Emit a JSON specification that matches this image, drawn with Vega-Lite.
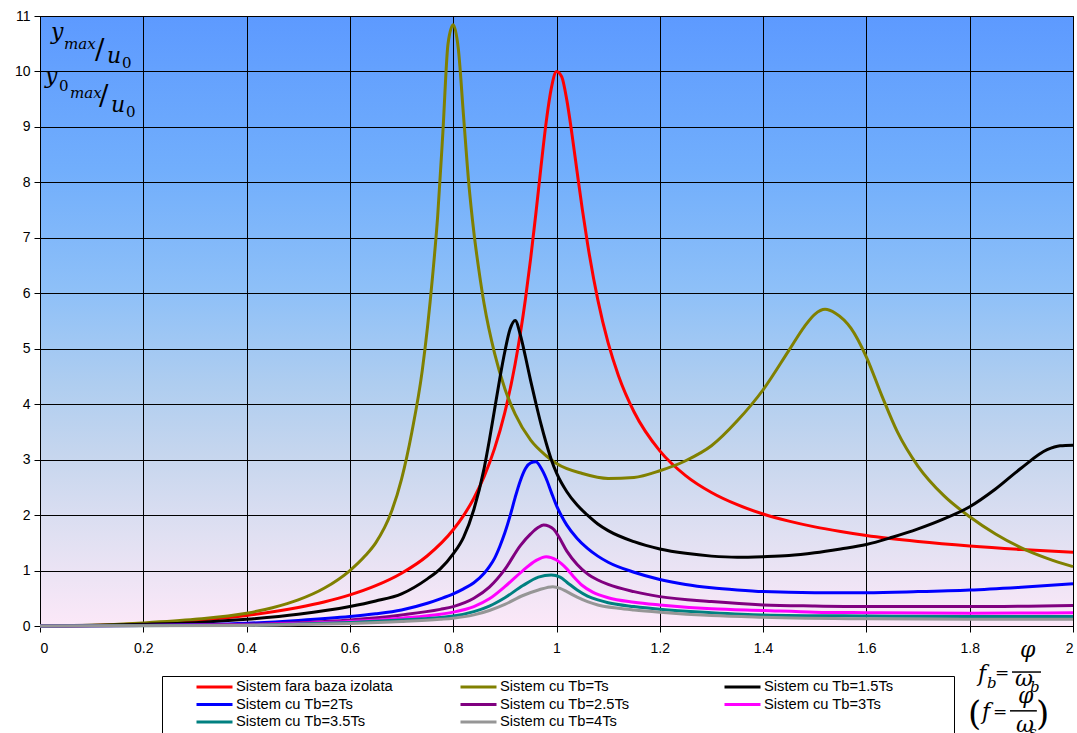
{
  "$schema": "https://vega.github.io/schema/vega-lite/v6.json",
  "width": 1033,
  "height": 610,
  "autosize": {"type": "none"},
  "padding": {"left": 40, "top": 16, "right": 4, "bottom": 107},
  "background": "white",
  "config": {
    "font": "Liberation Sans",
    "view": {
      "stroke": "#000",
      "strokeWidth": 1,
      "fill": {
        "gradient": "linear", "x1": 0, "y1": 0, "x2": 0, "y2": 1,
        "stops": [
          {"offset": 0, "color": "#5D9AFF"},
          {"offset": 0.25, "color": "#71AEFC"},
          {"offset": 0.45, "color": "#8EC0F8"},
          {"offset": 0.6, "color": "#AECDF0"},
          {"offset": 0.72, "color": "#C6D6EE"},
          {"offset": 0.85, "color": "#E0E0F2"},
          {"offset": 1, "color": "#FCE8F8"}
        ]
      }
    },
    "axis": {
      "labelFont": "Liberation Sans", "labelFontSize": 14, "labelColor": "#000",
      "tickColor": "#000", "domainColor": "#000", "gridColor": "#000",
      "gridOpacity": 1, "gridWidth": 1, "tickWidth": 1, "domainWidth": 1, "tickSize": 6
    }
  },
  "datasets": {
    "curves": [
      {"s":"Sistem fara baza izolata","x":0,"y":0},
      {"s":"Sistem fara baza izolata","x":0.1,"y":0.01},
      {"s":"Sistem fara baza izolata","x":0.2,"y":0.042},
      {"s":"Sistem fara baza izolata","x":0.3,"y":0.099},
      {"s":"Sistem fara baza izolata","x":0.4,"y":0.19},
      {"s":"Sistem fara baza izolata","x":0.5,"y":0.333},
      {"s":"Sistem fara baza izolata","x":0.55,"y":0.432},
      {"s":"Sistem fara baza izolata","x":0.6,"y":0.56},
      {"s":"Sistem fara baza izolata","x":0.65,"y":0.727},
      {"s":"Sistem fara baza izolata","x":0.7,"y":0.952},
      {"s":"Sistem fara baza izolata","x":0.75,"y":1.267},
      {"s":"Sistem fara baza izolata","x":0.8,"y":1.735},
      {"s":"Sistem fara baza izolata","x":0.82,"y":1.991},
      {"s":"Sistem fara baza izolata","x":0.84,"y":2.305},
      {"s":"Sistem fara baza izolata","x":0.86,"y":2.697},
      {"s":"Sistem fara baza izolata","x":0.88,"y":3.198},
      {"s":"Sistem fara baza izolata","x":0.9,"y":3.853},
      {"s":"Sistem fara baza izolata","x":0.92,"y":4.728},
      {"s":"Sistem fara baza izolata","x":0.94,"y":5.906},
      {"s":"Sistem fara baza izolata","x":0.95,"y":6.63},
      {"s":"Sistem fara baza izolata","x":0.96,"y":7.434},
      {"s":"Sistem fara baza izolata","x":0.97,"y":8.283},
      {"s":"Sistem fara baza izolata","x":0.98,"y":9.086},
      {"s":"Sistem fara baza izolata","x":0.99,"y":9.7},
      {"s":"Sistem fara baza izolata","x":1.0,"y":10.0},
      {"s":"Sistem fara baza izolata","x":1.01,"y":9.906},
      {"s":"Sistem fara baza izolata","x":1.02,"y":9.483},
      {"s":"Sistem fara baza izolata","x":1.03,"y":8.866},
      {"s":"Sistem fara baza izolata","x":1.04,"y":8.182},
      {"s":"Sistem fara baza izolata","x":1.05,"y":7.513},
      {"s":"Sistem fara baza izolata","x":1.06,"y":6.901},
      {"s":"Sistem fara baza izolata","x":1.08,"y":5.88},
      {"s":"Sistem fara baza izolata","x":1.1,"y":5.104},
      {"s":"Sistem fara baza izolata","x":1.12,"y":4.513},
      {"s":"Sistem fara baza izolata","x":1.15,"y":3.863},
      {"s":"Sistem fara baza izolata","x":1.2,"y":3.158},
      {"s":"Sistem fara baza izolata","x":1.25,"y":2.712},
      {"s":"Sistem fara baza izolata","x":1.3,"y":2.407},
      {"s":"Sistem fara baza izolata","x":1.35,"y":2.187},
      {"s":"Sistem fara baza izolata","x":1.4,"y":2.02},
      {"s":"Sistem fara baza izolata","x":1.45,"y":1.891},
      {"s":"Sistem fara baza izolata","x":1.5,"y":1.787},
      {"s":"Sistem fara baza izolata","x":1.55,"y":1.703},
      {"s":"Sistem fara baza izolata","x":1.6,"y":1.63},
      {"s":"Sistem fara baza izolata","x":1.7,"y":1.523},
      {"s":"Sistem fara baza izolata","x":1.8,"y":1.442},
      {"s":"Sistem fara baza izolata","x":1.9,"y":1.38},
      {"s":"Sistem fara baza izolata","x":2.0,"y":1.331},

      {"s":"Sistem cu Tb=Ts","x":0,"y":0},
      {"s":"Sistem cu Tb=Ts","x":0.1,"y":0.012},
      {"s":"Sistem cu Tb=Ts","x":0.2,"y":0.055},
      {"s":"Sistem cu Tb=Ts","x":0.3,"y":0.12},
      {"s":"Sistem cu Tb=Ts","x":0.4,"y":0.23},
      {"s":"Sistem cu Tb=Ts","x":0.45,"y":0.33},
      {"s":"Sistem cu Tb=Ts","x":0.5,"y":0.47},
      {"s":"Sistem cu Tb=Ts","x":0.55,"y":0.68},
      {"s":"Sistem cu Tb=Ts","x":0.6,"y":1.0},
      {"s":"Sistem cu Tb=Ts","x":0.63,"y":1.27},
      {"s":"Sistem cu Tb=Ts","x":0.65,"y":1.5},
      {"s":"Sistem cu Tb=Ts","x":0.68,"y":2.05},
      {"s":"Sistem cu Tb=Ts","x":0.7,"y":2.65},
      {"s":"Sistem cu Tb=Ts","x":0.72,"y":3.5},
      {"s":"Sistem cu Tb=Ts","x":0.74,"y":4.6},
      {"s":"Sistem cu Tb=Ts","x":0.76,"y":6.3},
      {"s":"Sistem cu Tb=Ts","x":0.77,"y":7.4},
      {"s":"Sistem cu Tb=Ts","x":0.78,"y":8.9},
      {"s":"Sistem cu Tb=Ts","x":0.79,"y":10.5},
      {"s":"Sistem cu Tb=Ts","x":0.8,"y":10.84},
      {"s":"Sistem cu Tb=Ts","x":0.81,"y":10.4},
      {"s":"Sistem cu Tb=Ts","x":0.82,"y":9.2},
      {"s":"Sistem cu Tb=Ts","x":0.83,"y":8.0},
      {"s":"Sistem cu Tb=Ts","x":0.84,"y":7.1},
      {"s":"Sistem cu Tb=Ts","x":0.85,"y":6.4},
      {"s":"Sistem cu Tb=Ts","x":0.86,"y":5.8},
      {"s":"Sistem cu Tb=Ts","x":0.88,"y":4.92},
      {"s":"Sistem cu Tb=Ts","x":0.9,"y":4.28},
      {"s":"Sistem cu Tb=Ts","x":0.92,"y":3.82},
      {"s":"Sistem cu Tb=Ts","x":0.95,"y":3.35},
      {"s":"Sistem cu Tb=Ts","x":0.98,"y":3.07},
      {"s":"Sistem cu Tb=Ts","x":1.0,"y":2.93},
      {"s":"Sistem cu Tb=Ts","x":1.05,"y":2.75},
      {"s":"Sistem cu Tb=Ts","x":1.1,"y":2.66},
      {"s":"Sistem cu Tb=Ts","x":1.15,"y":2.68},
      {"s":"Sistem cu Tb=Ts","x":1.2,"y":2.8},
      {"s":"Sistem cu Tb=Ts","x":1.25,"y":2.98},
      {"s":"Sistem cu Tb=Ts","x":1.3,"y":3.25},
      {"s":"Sistem cu Tb=Ts","x":1.35,"y":3.7},
      {"s":"Sistem cu Tb=Ts","x":1.4,"y":4.26},
      {"s":"Sistem cu Tb=Ts","x":1.45,"y":4.97},
      {"s":"Sistem cu Tb=Ts","x":1.48,"y":5.4},
      {"s":"Sistem cu Tb=Ts","x":1.5,"y":5.62},
      {"s":"Sistem cu Tb=Ts","x":1.52,"y":5.71},
      {"s":"Sistem cu Tb=Ts","x":1.54,"y":5.64},
      {"s":"Sistem cu Tb=Ts","x":1.57,"y":5.37},
      {"s":"Sistem cu Tb=Ts","x":1.6,"y":4.85},
      {"s":"Sistem cu Tb=Ts","x":1.63,"y":4.15},
      {"s":"Sistem cu Tb=Ts","x":1.66,"y":3.5},
      {"s":"Sistem cu Tb=Ts","x":1.7,"y":2.88},
      {"s":"Sistem cu Tb=Ts","x":1.75,"y":2.35},
      {"s":"Sistem cu Tb=Ts","x":1.8,"y":1.97},
      {"s":"Sistem cu Tb=Ts","x":1.85,"y":1.66},
      {"s":"Sistem cu Tb=Ts","x":1.9,"y":1.41},
      {"s":"Sistem cu Tb=Ts","x":1.95,"y":1.22},
      {"s":"Sistem cu Tb=Ts","x":2.0,"y":1.07},

      {"s":"Sistem cu Tb=1.5Ts","x":0,"y":0},
      {"s":"Sistem cu Tb=1.5Ts","x":0.2,"y":0.03},
      {"s":"Sistem cu Tb=1.5Ts","x":0.3,"y":0.06},
      {"s":"Sistem cu Tb=1.5Ts","x":0.4,"y":0.12},
      {"s":"Sistem cu Tb=1.5Ts","x":0.5,"y":0.21},
      {"s":"Sistem cu Tb=1.5Ts","x":0.6,"y":0.35},
      {"s":"Sistem cu Tb=1.5Ts","x":0.65,"y":0.45},
      {"s":"Sistem cu Tb=1.5Ts","x":0.7,"y":0.58},
      {"s":"Sistem cu Tb=1.5Ts","x":0.75,"y":0.85},
      {"s":"Sistem cu Tb=1.5Ts","x":0.775,"y":1.03},
      {"s":"Sistem cu Tb=1.5Ts","x":0.8,"y":1.3},
      {"s":"Sistem cu Tb=1.5Ts","x":0.82,"y":1.6},
      {"s":"Sistem cu Tb=1.5Ts","x":0.84,"y":2.1},
      {"s":"Sistem cu Tb=1.5Ts","x":0.86,"y":2.85},
      {"s":"Sistem cu Tb=1.5Ts","x":0.87,"y":3.35},
      {"s":"Sistem cu Tb=1.5Ts","x":0.88,"y":3.9},
      {"s":"Sistem cu Tb=1.5Ts","x":0.89,"y":4.45},
      {"s":"Sistem cu Tb=1.5Ts","x":0.9,"y":4.95},
      {"s":"Sistem cu Tb=1.5Ts","x":0.91,"y":5.35},
      {"s":"Sistem cu Tb=1.5Ts","x":0.92,"y":5.51},
      {"s":"Sistem cu Tb=1.5Ts","x":0.93,"y":5.25},
      {"s":"Sistem cu Tb=1.5Ts","x":0.94,"y":4.85},
      {"s":"Sistem cu Tb=1.5Ts","x":0.95,"y":4.42},
      {"s":"Sistem cu Tb=1.5Ts","x":0.96,"y":4.02},
      {"s":"Sistem cu Tb=1.5Ts","x":0.97,"y":3.64},
      {"s":"Sistem cu Tb=1.5Ts","x":0.98,"y":3.3},
      {"s":"Sistem cu Tb=1.5Ts","x":0.99,"y":3.0},
      {"s":"Sistem cu Tb=1.5Ts","x":1.0,"y":2.76},
      {"s":"Sistem cu Tb=1.5Ts","x":1.02,"y":2.42},
      {"s":"Sistem cu Tb=1.5Ts","x":1.04,"y":2.18},
      {"s":"Sistem cu Tb=1.5Ts","x":1.06,"y":2.0},
      {"s":"Sistem cu Tb=1.5Ts","x":1.08,"y":1.84},
      {"s":"Sistem cu Tb=1.5Ts","x":1.1,"y":1.72},
      {"s":"Sistem cu Tb=1.5Ts","x":1.15,"y":1.52},
      {"s":"Sistem cu Tb=1.5Ts","x":1.2,"y":1.39},
      {"s":"Sistem cu Tb=1.5Ts","x":1.25,"y":1.31},
      {"s":"Sistem cu Tb=1.5Ts","x":1.3,"y":1.26},
      {"s":"Sistem cu Tb=1.5Ts","x":1.35,"y":1.24},
      {"s":"Sistem cu Tb=1.5Ts","x":1.4,"y":1.25},
      {"s":"Sistem cu Tb=1.5Ts","x":1.45,"y":1.27},
      {"s":"Sistem cu Tb=1.5Ts","x":1.5,"y":1.32},
      {"s":"Sistem cu Tb=1.5Ts","x":1.55,"y":1.39},
      {"s":"Sistem cu Tb=1.5Ts","x":1.6,"y":1.47},
      {"s":"Sistem cu Tb=1.5Ts","x":1.65,"y":1.6},
      {"s":"Sistem cu Tb=1.5Ts","x":1.7,"y":1.75},
      {"s":"Sistem cu Tb=1.5Ts","x":1.75,"y":1.93},
      {"s":"Sistem cu Tb=1.5Ts","x":1.8,"y":2.15},
      {"s":"Sistem cu Tb=1.5Ts","x":1.85,"y":2.47},
      {"s":"Sistem cu Tb=1.5Ts","x":1.9,"y":2.85},
      {"s":"Sistem cu Tb=1.5Ts","x":1.95,"y":3.18},
      {"s":"Sistem cu Tb=1.5Ts","x":1.975,"y":3.25},
      {"s":"Sistem cu Tb=1.5Ts","x":2.0,"y":3.26},

      {"s":"Sistem cu Tb=2Ts","x":0,"y":0},
      {"s":"Sistem cu Tb=2Ts","x":0.2,"y":0.01},
      {"s":"Sistem cu Tb=2Ts","x":0.3,"y":0.025},
      {"s":"Sistem cu Tb=2Ts","x":0.4,"y":0.05},
      {"s":"Sistem cu Tb=2Ts","x":0.5,"y":0.1},
      {"s":"Sistem cu Tb=2Ts","x":0.6,"y":0.17},
      {"s":"Sistem cu Tb=2Ts","x":0.65,"y":0.22},
      {"s":"Sistem cu Tb=2Ts","x":0.7,"y":0.29},
      {"s":"Sistem cu Tb=2Ts","x":0.75,"y":0.41},
      {"s":"Sistem cu Tb=2Ts","x":0.775,"y":0.49},
      {"s":"Sistem cu Tb=2Ts","x":0.8,"y":0.58},
      {"s":"Sistem cu Tb=2Ts","x":0.82,"y":0.67},
      {"s":"Sistem cu Tb=2Ts","x":0.84,"y":0.78},
      {"s":"Sistem cu Tb=2Ts","x":0.86,"y":0.95},
      {"s":"Sistem cu Tb=2Ts","x":0.87,"y":1.07},
      {"s":"Sistem cu Tb=2Ts","x":0.88,"y":1.22},
      {"s":"Sistem cu Tb=2Ts","x":0.89,"y":1.43},
      {"s":"Sistem cu Tb=2Ts","x":0.9,"y":1.68},
      {"s":"Sistem cu Tb=2Ts","x":0.91,"y":1.98},
      {"s":"Sistem cu Tb=2Ts","x":0.92,"y":2.32},
      {"s":"Sistem cu Tb=2Ts","x":0.93,"y":2.62},
      {"s":"Sistem cu Tb=2Ts","x":0.94,"y":2.84},
      {"s":"Sistem cu Tb=2Ts","x":0.95,"y":2.94},
      {"s":"Sistem cu Tb=2Ts","x":0.96,"y":2.96},
      {"s":"Sistem cu Tb=2Ts","x":0.97,"y":2.85},
      {"s":"Sistem cu Tb=2Ts","x":0.98,"y":2.66},
      {"s":"Sistem cu Tb=2Ts","x":0.99,"y":2.41},
      {"s":"Sistem cu Tb=2Ts","x":1.0,"y":2.17},
      {"s":"Sistem cu Tb=2Ts","x":1.01,"y":1.98},
      {"s":"Sistem cu Tb=2Ts","x":1.02,"y":1.82},
      {"s":"Sistem cu Tb=2Ts","x":1.04,"y":1.58},
      {"s":"Sistem cu Tb=2Ts","x":1.06,"y":1.4},
      {"s":"Sistem cu Tb=2Ts","x":1.08,"y":1.26},
      {"s":"Sistem cu Tb=2Ts","x":1.1,"y":1.15},
      {"s":"Sistem cu Tb=2Ts","x":1.15,"y":0.97},
      {"s":"Sistem cu Tb=2Ts","x":1.2,"y":0.84},
      {"s":"Sistem cu Tb=2Ts","x":1.25,"y":0.75},
      {"s":"Sistem cu Tb=2Ts","x":1.3,"y":0.69},
      {"s":"Sistem cu Tb=2Ts","x":1.35,"y":0.65},
      {"s":"Sistem cu Tb=2Ts","x":1.4,"y":0.62},
      {"s":"Sistem cu Tb=2Ts","x":1.5,"y":0.6},
      {"s":"Sistem cu Tb=2Ts","x":1.6,"y":0.6},
      {"s":"Sistem cu Tb=2Ts","x":1.7,"y":0.62},
      {"s":"Sistem cu Tb=2Ts","x":1.8,"y":0.65},
      {"s":"Sistem cu Tb=2Ts","x":1.9,"y":0.7},
      {"s":"Sistem cu Tb=2Ts","x":2.0,"y":0.76},

      {"s":"Sistem cu Tb=2.5Ts","x":0,"y":0},
      {"s":"Sistem cu Tb=2.5Ts","x":0.3,"y":0.02},
      {"s":"Sistem cu Tb=2.5Ts","x":0.4,"y":0.03},
      {"s":"Sistem cu Tb=2.5Ts","x":0.5,"y":0.06},
      {"s":"Sistem cu Tb=2.5Ts","x":0.6,"y":0.11},
      {"s":"Sistem cu Tb=2.5Ts","x":0.7,"y":0.2},
      {"s":"Sistem cu Tb=2.5Ts","x":0.775,"y":0.3},
      {"s":"Sistem cu Tb=2.5Ts","x":0.8,"y":0.35},
      {"s":"Sistem cu Tb=2.5Ts","x":0.84,"y":0.5},
      {"s":"Sistem cu Tb=2.5Ts","x":0.87,"y":0.7},
      {"s":"Sistem cu Tb=2.5Ts","x":0.9,"y":1.02},
      {"s":"Sistem cu Tb=2.5Ts","x":0.93,"y":1.45},
      {"s":"Sistem cu Tb=2.5Ts","x":0.95,"y":1.66},
      {"s":"Sistem cu Tb=2.5Ts","x":0.965,"y":1.78},
      {"s":"Sistem cu Tb=2.5Ts","x":0.975,"y":1.82},
      {"s":"Sistem cu Tb=2.5Ts","x":0.985,"y":1.8},
      {"s":"Sistem cu Tb=2.5Ts","x":0.995,"y":1.74},
      {"s":"Sistem cu Tb=2.5Ts","x":1.005,"y":1.6},
      {"s":"Sistem cu Tb=2.5Ts","x":1.02,"y":1.35},
      {"s":"Sistem cu Tb=2.5Ts","x":1.04,"y":1.11},
      {"s":"Sistem cu Tb=2.5Ts","x":1.06,"y":0.94},
      {"s":"Sistem cu Tb=2.5Ts","x":1.08,"y":0.83},
      {"s":"Sistem cu Tb=2.5Ts","x":1.1,"y":0.75},
      {"s":"Sistem cu Tb=2.5Ts","x":1.15,"y":0.62},
      {"s":"Sistem cu Tb=2.5Ts","x":1.2,"y":0.53},
      {"s":"Sistem cu Tb=2.5Ts","x":1.3,"y":0.44},
      {"s":"Sistem cu Tb=2.5Ts","x":1.4,"y":0.38},
      {"s":"Sistem cu Tb=2.5Ts","x":1.5,"y":0.36},
      {"s":"Sistem cu Tb=2.5Ts","x":1.6,"y":0.35},
      {"s":"Sistem cu Tb=2.5Ts","x":1.8,"y":0.35},
      {"s":"Sistem cu Tb=2.5Ts","x":2.0,"y":0.37},

      {"s":"Sistem cu Tb=3Ts","x":0,"y":0},
      {"s":"Sistem cu Tb=3Ts","x":0.4,"y":0.02},
      {"s":"Sistem cu Tb=3Ts","x":0.5,"y":0.045},
      {"s":"Sistem cu Tb=3Ts","x":0.6,"y":0.08},
      {"s":"Sistem cu Tb=3Ts","x":0.7,"y":0.14},
      {"s":"Sistem cu Tb=3Ts","x":0.775,"y":0.21},
      {"s":"Sistem cu Tb=3Ts","x":0.8,"y":0.25},
      {"s":"Sistem cu Tb=3Ts","x":0.84,"y":0.35},
      {"s":"Sistem cu Tb=3Ts","x":0.87,"y":0.49},
      {"s":"Sistem cu Tb=3Ts","x":0.9,"y":0.71},
      {"s":"Sistem cu Tb=3Ts","x":0.935,"y":1.0},
      {"s":"Sistem cu Tb=3Ts","x":0.96,"y":1.18},
      {"s":"Sistem cu Tb=3Ts","x":0.98,"y":1.25},
      {"s":"Sistem cu Tb=3Ts","x":1.0,"y":1.19},
      {"s":"Sistem cu Tb=3Ts","x":1.01,"y":1.12},
      {"s":"Sistem cu Tb=3Ts","x":1.02,"y":1.03},
      {"s":"Sistem cu Tb=3Ts","x":1.033,"y":0.89},
      {"s":"Sistem cu Tb=3Ts","x":1.05,"y":0.73},
      {"s":"Sistem cu Tb=3Ts","x":1.07,"y":0.61},
      {"s":"Sistem cu Tb=3Ts","x":1.1,"y":0.51},
      {"s":"Sistem cu Tb=3Ts","x":1.15,"y":0.43},
      {"s":"Sistem cu Tb=3Ts","x":1.2,"y":0.38},
      {"s":"Sistem cu Tb=3Ts","x":1.3,"y":0.31},
      {"s":"Sistem cu Tb=3Ts","x":1.4,"y":0.28},
      {"s":"Sistem cu Tb=3Ts","x":1.5,"y":0.25},
      {"s":"Sistem cu Tb=3Ts","x":1.6,"y":0.24},
      {"s":"Sistem cu Tb=3Ts","x":1.8,"y":0.23},
      {"s":"Sistem cu Tb=3Ts","x":2.0,"y":0.24},

      {"s":"Sistem cu Tb=3.5Ts","x":0,"y":0},
      {"s":"Sistem cu Tb=3.5Ts","x":0.4,"y":0.015},
      {"s":"Sistem cu Tb=3.5Ts","x":0.5,"y":0.035},
      {"s":"Sistem cu Tb=3.5Ts","x":0.6,"y":0.065},
      {"s":"Sistem cu Tb=3.5Ts","x":0.7,"y":0.11},
      {"s":"Sistem cu Tb=3.5Ts","x":0.775,"y":0.155},
      {"s":"Sistem cu Tb=3.5Ts","x":0.8,"y":0.18},
      {"s":"Sistem cu Tb=3.5Ts","x":0.84,"y":0.26},
      {"s":"Sistem cu Tb=3.5Ts","x":0.87,"y":0.36},
      {"s":"Sistem cu Tb=3.5Ts","x":0.9,"y":0.51},
      {"s":"Sistem cu Tb=3.5Ts","x":0.935,"y":0.73},
      {"s":"Sistem cu Tb=3.5Ts","x":0.965,"y":0.88},
      {"s":"Sistem cu Tb=3.5Ts","x":0.99,"y":0.92},
      {"s":"Sistem cu Tb=3.5Ts","x":1.007,"y":0.88},
      {"s":"Sistem cu Tb=3.5Ts","x":1.02,"y":0.79},
      {"s":"Sistem cu Tb=3.5Ts","x":1.04,"y":0.65},
      {"s":"Sistem cu Tb=3.5Ts","x":1.06,"y":0.54},
      {"s":"Sistem cu Tb=3.5Ts","x":1.08,"y":0.47},
      {"s":"Sistem cu Tb=3.5Ts","x":1.1,"y":0.42},
      {"s":"Sistem cu Tb=3.5Ts","x":1.15,"y":0.35},
      {"s":"Sistem cu Tb=3.5Ts","x":1.2,"y":0.3},
      {"s":"Sistem cu Tb=3.5Ts","x":1.3,"y":0.24},
      {"s":"Sistem cu Tb=3.5Ts","x":1.4,"y":0.2},
      {"s":"Sistem cu Tb=3.5Ts","x":1.6,"y":0.18},
      {"s":"Sistem cu Tb=3.5Ts","x":1.8,"y":0.17},
      {"s":"Sistem cu Tb=3.5Ts","x":2.0,"y":0.17},

      {"s":"Sistem cu Tb=4Ts","x":0,"y":0},
      {"s":"Sistem cu Tb=4Ts","x":0.4,"y":0.01},
      {"s":"Sistem cu Tb=4Ts","x":0.5,"y":0.025},
      {"s":"Sistem cu Tb=4Ts","x":0.6,"y":0.045},
      {"s":"Sistem cu Tb=4Ts","x":0.7,"y":0.08},
      {"s":"Sistem cu Tb=4Ts","x":0.775,"y":0.12},
      {"s":"Sistem cu Tb=4Ts","x":0.8,"y":0.14},
      {"s":"Sistem cu Tb=4Ts","x":0.84,"y":0.2},
      {"s":"Sistem cu Tb=4Ts","x":0.87,"y":0.28},
      {"s":"Sistem cu Tb=4Ts","x":0.9,"y":0.39},
      {"s":"Sistem cu Tb=4Ts","x":0.935,"y":0.55},
      {"s":"Sistem cu Tb=4Ts","x":0.965,"y":0.65},
      {"s":"Sistem cu Tb=4Ts","x":0.993,"y":0.71},
      {"s":"Sistem cu Tb=4Ts","x":1.007,"y":0.68},
      {"s":"Sistem cu Tb=4Ts","x":1.02,"y":0.62},
      {"s":"Sistem cu Tb=4Ts","x":1.04,"y":0.52},
      {"s":"Sistem cu Tb=4Ts","x":1.06,"y":0.44},
      {"s":"Sistem cu Tb=4Ts","x":1.08,"y":0.38},
      {"s":"Sistem cu Tb=4Ts","x":1.12,"y":0.32},
      {"s":"Sistem cu Tb=4Ts","x":1.15,"y":0.29},
      {"s":"Sistem cu Tb=4Ts","x":1.2,"y":0.25},
      {"s":"Sistem cu Tb=4Ts","x":1.3,"y":0.19},
      {"s":"Sistem cu Tb=4Ts","x":1.4,"y":0.16},
      {"s":"Sistem cu Tb=4Ts","x":1.6,"y":0.13},
      {"s":"Sistem cu Tb=4Ts","x":1.8,"y":0.12},
      {"s":"Sistem cu Tb=4Ts","x":2.0,"y":0.12}
    ],
    "ann": [
      {"t":"y","k":"bi","x":0.0213,"y":10.586},
      {"t":"max","k":"si","x":0.0465,"y":10.406},
      {"t":"/","k":"sl","x":0.1065,"y":10.23},
      {"t":"u","k":"bi","x":0.1297,"y":10.153},
      {"t":"0","k":"su","x":0.1588,"y":10.063},
      {"t":"y","k":"bi","x":0.0097,"y":9.793},
      {"t":"0","k":"su","x":0.0368,"y":9.648},
      {"t":"max","k":"si","x":0.0581,"y":9.522},
      {"t":"/","k":"sl","x":0.1143,"y":9.396},
      {"t":"u","k":"bi","x":0.1375,"y":9.27},
      {"t":"0","k":"su","x":0.1665,"y":9.179},
      {"t":"f","k":"bi","x":1.8161,"y":-0.992},
      {"t":"b","k":"si","x":1.8335,"y":-1.118},
      {"t":"=","k":"eq","x":1.849,"y":-0.938},
      {"t":"φ","k":"bi","x":1.8974,"y":-0.56},
      {"t":"ω","k":"bi","x":1.8877,"y":-1.09},
      {"t":"b","k":"si","x":1.9167,"y":-1.19},
      {"t":"(","k":"p","x":1.7967,"y":-1.785},
      {"t":"f","k":"bi","x":1.8238,"y":-1.677},
      {"t":"=","k":"eq","x":1.8452,"y":-1.641},
      {"t":"φ","k":"bi","x":1.8935,"y":-1.395},
      {"t":"ω","k":"bi","x":1.8896,"y":-1.91},
      {"t":"s","k":"si","x":1.9148,"y":-2.01},
      {"t":")","k":"p","x":1.9284,"y":-1.785}
    ],
    "bars": [
      {"x":1.8819,"x2":1.938,"y":-0.83},
      {"x":1.878,"x2":1.93,"y":-1.53}
    ]
  },
  "layer": [
    {
      "data": {"name": "curves"},
      "mark": {"type": "line", "strokeWidth": 3, "interpolate": "monotone"},
      "encoding": {
        "x": {
          "field": "x", "type": "quantitative",
          "scale": {"domain": [0, 2], "nice": false},
          "axis": {"values": [0, 0.2, 0.4, 0.6, 0.8, 1, 1.2, 1.4, 1.6, 1.8, 2], "format": "~g", "title": null, "grid": true, "labelPadding": 9}
        },
        "y": {
          "field": "y", "type": "quantitative",
          "scale": {"domain": [0, 11], "nice": false},
          "axis": {"values": [0, 1, 2, 3, 4, 5, 6, 7, 8, 9, 10, 11], "format": "~g", "title": null, "grid": true, "labelPadding": 4}
        },
        "color": {
          "field": "s", "type": "nominal",
          "scale": {
            "domain": ["Sistem fara baza izolata", "Sistem cu Tb=Ts", "Sistem cu Tb=1.5Ts", "Sistem cu Tb=2Ts", "Sistem cu Tb=2.5Ts", "Sistem cu Tb=3Ts", "Sistem cu Tb=3.5Ts", "Sistem cu Tb=4Ts"],
            "range": ["#FF0000", "#808000", "#000000", "#0000FF", "#800080", "#FF00FF", "#008080", "#969696"]
          },
          "legend": {
            "orient": "none", "legendX": 122, "legendY": 660, "columns": 3, "direction": "horizontal",
            "title": " ", "titleOrient": "right", "titlePadding": 57, "titleFontSize": 8,
            "symbolType": "stroke", "symbolStrokeWidth": 3, "symbolSize": 1296, "clipHeight": 14,
            "symbolOffset": 29, "labelOffset": 2, "labelFontSize": 14.7, "labelFont": "Liberation Sans", "labelColor": "#000",
            "labelLimit": 300, "gridAlign": "all", "columnPadding": 37, "rowPadding": 2.5,
            "strokeColor": "#000", "fillColor": "#FFFFFF", "padding": 4
          }
        }
      }
    },
    {
      "data": {"name": "bars"},
      "mark": {"type": "rule", "strokeWidth": 1.5, "color": "#000"},
      "encoding": {
        "x": {"field": "x", "type": "quantitative", "title": null},
        "x2": {"field": "x2"},
        "y": {"field": "y", "type": "quantitative", "title": null}
      }
    },
    {
      "data": {"name": "ann"},
      "transform": [{"filter": "datum.k == 'bi'"}],
      "mark": {"type": "text", "font": "DejaVu Serif", "fontStyle": "italic", "fontSize": 22, "align": "left", "baseline": "alphabetic", "color": "#000"},
      "encoding": {
        "x": {"field": "x", "type": "quantitative", "title": null},
        "y": {"field": "y", "type": "quantitative", "title": null},
        "text": {"field": "t"}
      }
    },
    {
      "data": {"name": "ann"},
      "transform": [{"filter": "datum.k == 'eq'"}],
      "mark": {"type": "text", "font": "DejaVu Serif", "fontSize": 17, "align": "left", "baseline": "alphabetic", "color": "#000"},
      "encoding": {
        "x": {"field": "x", "type": "quantitative", "title": null},
        "y": {"field": "y", "type": "quantitative", "title": null},
        "text": {"field": "t"}
      }
    },
    {
      "data": {"name": "ann"},
      "transform": [{"filter": "datum.k == 'sl'"}],
      "mark": {"type": "text", "font": "DejaVu Serif", "fontSize": 28, "align": "left", "baseline": "alphabetic", "color": "#000"},
      "encoding": {
        "x": {"field": "x", "type": "quantitative", "title": null},
        "y": {"field": "y", "type": "quantitative", "title": null},
        "text": {"field": "t"}
      }
    },
    {
      "data": {"name": "ann"},
      "transform": [{"filter": "datum.k == 'si'"}],
      "mark": {"type": "text", "font": "DejaVu Serif", "fontStyle": "italic", "fontSize": 15, "align": "left", "baseline": "alphabetic", "color": "#000"},
      "encoding": {
        "x": {"field": "x", "type": "quantitative", "title": null},
        "y": {"field": "y", "type": "quantitative", "title": null},
        "text": {"field": "t"}
      }
    },
    {
      "data": {"name": "ann"},
      "transform": [{"filter": "datum.k == 'su'"}],
      "mark": {"type": "text", "font": "DejaVu Serif", "fontSize": 15, "align": "left", "baseline": "alphabetic", "color": "#000"},
      "encoding": {
        "x": {"field": "x", "type": "quantitative", "title": null},
        "y": {"field": "y", "type": "quantitative", "title": null},
        "text": {"field": "t"}
      }
    },
    {
      "data": {"name": "ann"},
      "transform": [{"filter": "datum.k == 'p'"}],
      "mark": {"type": "text", "font": "DejaVu Serif", "fontSize": 34, "align": "left", "baseline": "alphabetic", "color": "#000"},
      "encoding": {
        "x": {"field": "x", "type": "quantitative", "title": null},
        "y": {"field": "y", "type": "quantitative", "title": null},
        "text": {"field": "t"}
      }
    }
  ]
}
